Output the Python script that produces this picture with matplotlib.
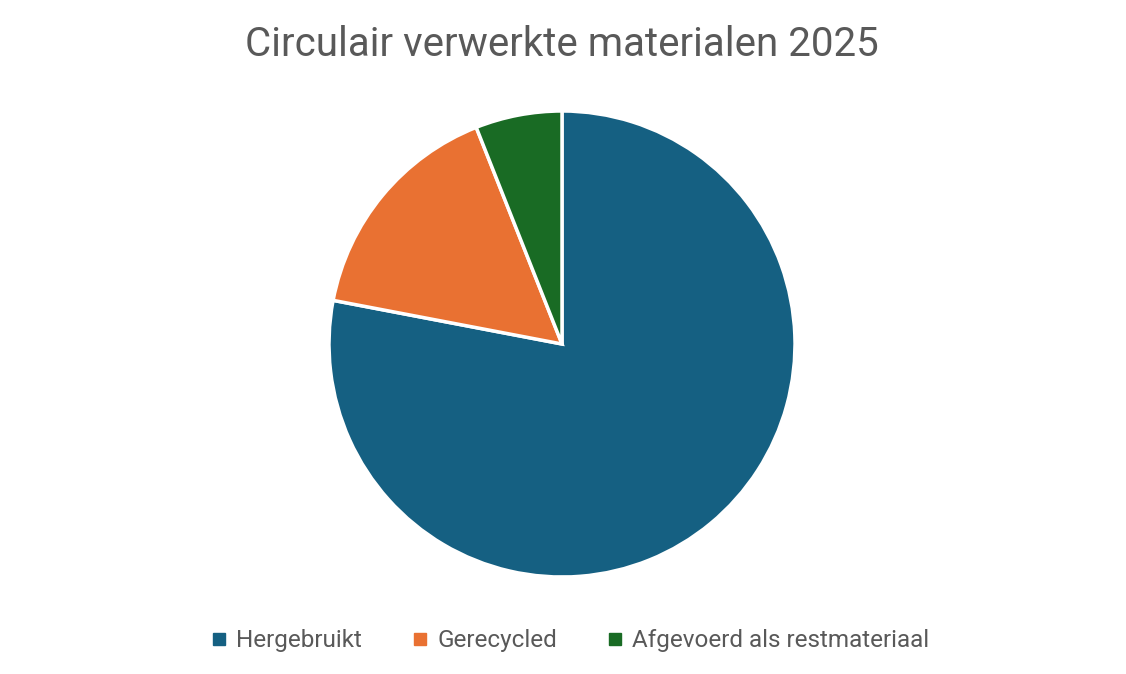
import matplotlib.pyplot as plt
from matplotlib.lines import Line2D

# data
labels = ["Hergebruikt", "Gerecycled", "Afgevoerd als restmateriaal"]
waarden = [78, 16, 6]
kleuren = ["#156082", "#E97132", "#196B24"]

plt.rcParams['font.family'] = ['Roboto', 'DejaVu Sans']

fig = plt.figure(figsize=(11.26, 6.74), dpi=100)
W, H = 1126, 674
cx, cy, r = 562, 344, 233
ax = fig.add_axes([(cx - r) / W, (H - cy - r) / H, 2 * r / W, 2 * r / H])

ax.pie(waarden, colors=kleuren, startangle=90, counterclock=False,
       wedgeprops=dict(edgecolor='white', linewidth=2.5))
ax.set_xlim(-1, 1)
ax.set_ylim(-1, 1)
ax.set_aspect('equal')
ax.axis('off')

fig.text(cx / W, 1 - 44 / H, "Circulair verwerkte materialen 2025",
         ha='center', va='center', fontsize=29, color='#595959')

handles = [Line2D([], [], marker='s', linestyle='', markersize=8,
                  markerfacecolor=k, markeredgecolor=k) for k in kleuren]
fig.legend(handles, labels, ncol=3, loc='center',
           bbox_to_anchor=(568 / W, 1 - 641 / H), frameon=False,
           fontsize=17.5, labelcolor='#595959', handletextpad=0.2,
           columnspacing=1.9, handlelength=1.0)

fig.savefig("out.png", dpi=100)
